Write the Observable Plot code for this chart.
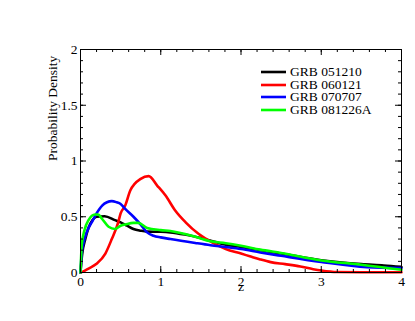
<!DOCTYPE html>
<html>
<head>
<meta charset="utf-8">
<script src="https://cdn.jsdelivr.net/npm/d3@7"></script>
<script src="https://cdn.jsdelivr.net/npm/@observablehq/plot@0.6"></script>
<style>
  html, body { margin: 0; padding: 0; background: #fff; }
  #wrap { position: relative; width: 415px; height: 321px; font-family: 'Liberation Serif', 'DejaVu Serif', serif; }
  #wrap svg text { font-family: 'Liberation Serif', 'DejaVu Serif', serif; }
  #legend { position: absolute; left: 261px; top: 66px; font-family: 'Liberation Serif', 'DejaVu Serif', serif; font-size: 13.5px; line-height: 12.6px; }
  .row { display: flex; align-items: center; height: 12.6px; white-space: nowrap; }
  .row svg { margin-right: 4px; }
</style>
</head>
<body>
<div id="wrap"><div id="legend"></div></div>
<script>
const seriesNames = ["GRB 051210", "GRB 060121", "GRB 070707", "GRB 081226A"];
const seriesColors = ["#000000", "#ff0000", "#0000ff", "#00ff00"];

const zBlack = [0, 0.02, 0.06, 0.1, 0.15, 0.2, 0.3, 0.43, 0.5, 0.58, 0.66, 0.75, 0.83, 1.0, 1.12, 1.3, 1.6, 1.81, 2.0, 2.24, 2.5, 3.0, 3.5, 3.78, 4.0];
const pBlack = [0, 0.16, 0.3, 0.4, 0.47, 0.5, 0.505, 0.47, 0.45, 0.42, 0.39, 0.375, 0.367, 0.365, 0.36, 0.34, 0.29, 0.25, 0.23, 0.2, 0.17, 0.11, 0.075, 0.063, 0.05];

const zRed = [0, 0.05, 0.1, 0.2, 0.31, 0.39, 0.47, 0.5, 0.557, 0.62, 0.75, 0.85, 0.955, 1.06, 1.18, 1.31, 1.47, 1.64, 1.81, 2.0, 2.12, 2.24, 2.37, 2.55, 2.74, 2.9, 3.0, 3.2, 3.5, 4.0];
const pRed = [0, 0.015, 0.035, 0.078, 0.17, 0.30, 0.45, 0.53, 0.60, 0.735, 0.84, 0.864, 0.78, 0.69, 0.556, 0.45, 0.347, 0.27, 0.21, 0.17, 0.143, 0.117, 0.093, 0.075, 0.054, 0.03, 0.018, 0.004, 0.002, 0.002];

const zBlue = [0, 0.016, 0.05, 0.1, 0.14, 0.2, 0.27, 0.33, 0.39, 0.45, 0.5, 0.557, 0.66, 0.75, 0.83, 0.91, 1.0, 1.12, 1.43, 1.62, 1.81, 2.0, 2.24, 2.5, 3.0, 3.57, 4.0];
const pBlue = [0, 0.18, 0.3, 0.4, 0.45, 0.53, 0.60, 0.63, 0.64, 0.63, 0.615, 0.57, 0.50, 0.43, 0.36, 0.33, 0.315, 0.30, 0.265, 0.245, 0.228, 0.21, 0.18, 0.15, 0.095, 0.048, 0.04];

const zGreen = [0, 0.016, 0.05, 0.1, 0.18, 0.22, 0.27, 0.35, 0.43, 0.5, 0.557, 0.66, 0.72, 0.83, 1.0, 1.12, 1.43, 1.62, 1.81, 2.0, 2.24, 2.5, 3.0, 3.5, 4.0];
const pGreen = [0, 0.25, 0.38, 0.47, 0.52, 0.52, 0.48, 0.41, 0.39, 0.42, 0.43, 0.445, 0.445, 0.40, 0.38, 0.372, 0.32, 0.28, 0.263, 0.24, 0.205, 0.175, 0.108, 0.07, 0.024];

const xMajor = [0, 1, 2, 3, 4];
const yMajor = [0, 0.5, 1, 1.5, 2];
const xMinor = d3.range(0, 4.001, 0.2).map(v => +v.toFixed(2));
const yMinor = d3.range(0, 2.001, 0.1).map(v => +v.toFixed(2));

const zs = [zBlack, zRed, zBlue, zGreen];
const ps = [pBlack, pRed, pBlue, pGreen];
const rows = [];
zs.forEach((zArr, i) => zArr.forEach((z, j) => rows.push({z, p: ps[i][j], s: seriesNames[i]})));

const W = 415, H = 321, mL = 80, mR = 14, mT = 49, mB = 49;
const fw = W - mL - mR, fh = H - mT - mB;
const font = "'Liberation Serif', 'DejaVu Serif', serif";

const chart = Plot.plot({
  width: W, height: H,
  marginLeft: mL, marginRight: mR, marginTop: mT, marginBottom: mB,
  x: {domain: [0, 4]},
  y: {domain: [0, 2]},
  color: {domain: seriesNames, range: seriesColors},
  style: {fontFamily: font, fontSize: "13.5px", background: "white", color: "black"},
  marks: [
    Plot.line(rows, {x: "z", y: "p", z: "s", stroke: "s", strokeWidth: 2.6, curve: "monotone-x"}),
    Plot.frame({stroke: "black", strokeWidth: 1}),
    Plot.ruleX(xMajor, {x: d => d, insetTop: fh - 6, stroke: "black"}),
    Plot.ruleX(xMajor, {x: d => d, insetBottom: fh - 6, stroke: "black"}),
    Plot.ruleX(xMinor, {x: d => d, insetTop: fh - 3, stroke: "black"}),
    Plot.ruleX(xMinor, {x: d => d, insetBottom: fh - 3, stroke: "black"}),
    Plot.ruleY(yMajor, {y: d => d, insetRight: fw - 6, stroke: "black"}),
    Plot.ruleY(yMajor, {y: d => d, insetLeft: fw - 6, stroke: "black"}),
    Plot.ruleY(yMinor, {y: d => d, insetRight: fw - 3, stroke: "black"}),
    Plot.ruleY(yMinor, {y: d => d, insetLeft: fw - 3, stroke: "black"}),
    Plot.axisX(xMajor, {tickSize: 0, tickPadding: 4, tickFormat: d => String(d), label: null, fontSize: 13.5}),
    Plot.axisY(yMajor, {tickSize: 0, tickPadding: 3, tickFormat: d => String(d), label: null, fontSize: 13.5}),
    Plot.text(["z"], {frameAnchor: "bottom", dy: 18, text: d => d, fontSize: 13.5}),
    Plot.text(["Probability Density"], {frameAnchor: "left", dx: -28, rotate: -90, text: d => d, fontSize: 13.5})
  ]
});
document.getElementById("wrap").prepend(chart);

const legend = document.getElementById("legend");
seriesNames.forEach((name, i) => {
  const row = document.createElement("div");
  row.className = "row";
  row.innerHTML = `<svg width="25" height="4"><line x1="0" x2="25" y1="2" y2="2" stroke="${seriesColors[i]}" stroke-width="2.6"/></svg><span>${name}</span>`;
  legend.appendChild(row);
});
</script>
</body>
</html>
